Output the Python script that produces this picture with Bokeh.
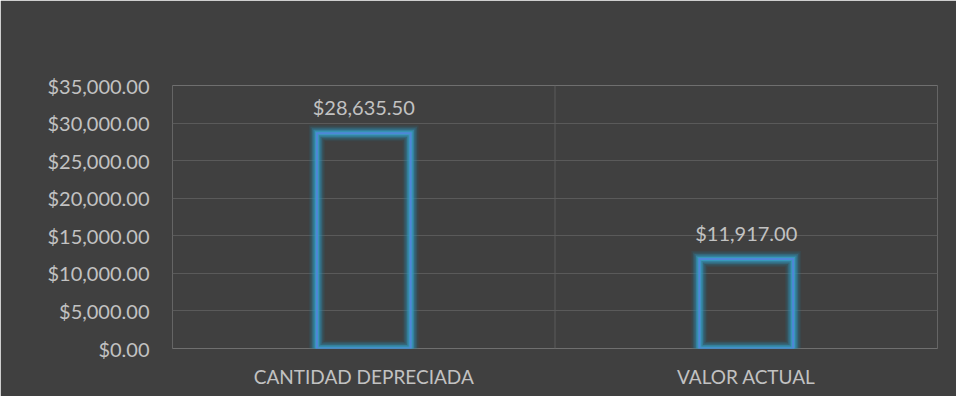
from bokeh.plotting import figure
from bokeh.models import ColumnDataSource, FactorRange, Range1d, NumeralTickFormatter, FixedTicker, Span
from bokeh.core.properties import value
from bokeh.embed import file_html
from bokeh.resources import INLINE

categories = ["CANTIDAD DEPRECIADA", "VALOR ACTUAL"]
values = [28635.50, 11917.00]
y_ticks = [0, 5000, 10000, 15000, 20000, 25000, 30000, 35000]

labels = ["${:,.2f}".format(v) for v in values]
source = ColumnDataSource(dict(cat=categories, val=values, half=[v / 2 for v in values], lab=labels))

FONT = "Lato"
BG = "#404040"
GRID = "#5a5a5a"
TXT = "#c2c2c2"

p = figure(width=956, height=396, x_range=FactorRange(*categories), y_range=Range1d(0, 35000),
           output_backend="svg", toolbar_location=None,
           background_fill_color=BG, border_fill_color=BG,
           min_border_left=172, min_border_right=19, min_border_top=85, min_border_bottom=48)
p.outline_line_color = None

# gridlines
p.ygrid.ticker = FixedTicker(ticks=y_ticks)
p.ygrid.grid_line_color = GRID
p.ygrid.grid_line_width = 1
p.xgrid.visible = False
for loc in [0, 1, 2]:
    p.add_layout(Span(location=loc, dimension="height", line_color=GRID, line_width=1))

# glow layers
bw = 0.245
for lw, col, a in [(16, "#23728f", 0.15), (13, "#2a85a8", 0.22), (10, "#2e8fb3", 0.32),
                   (7, "#3399bd", 0.5), (4, "#3aa2c6", 0.7)]:
    p.rect(x="cat", y="half", width=bw, height="val", source=source, fill_color=None,
           line_color=col, line_alpha=a, line_width=lw, line_join="miter")
p.rect(x="cat", y="half", width=bw, height="val", source=source, fill_color=None,
       line_color="#4f86d8", line_width=2, line_join="miter")

# data labels
p.text(x="cat", y="val", text="lab", source=source, text_align="center", text_baseline="bottom",
       y_offset=-14, text_font=value(FONT), text_font_size="20px", text_color=TXT)

# axes
p.yaxis.ticker = FixedTicker(ticks=y_ticks)
p.yaxis.formatter = NumeralTickFormatter(format="$0,0.00")
for ax in [p.xaxis[0], p.yaxis[0]]:
    ax.axis_line_color = None
    ax.major_tick_line_color = None
    ax.minor_tick_line_color = None
    ax.major_label_text_font = FONT
    ax.major_label_text_color = TXT
p.yaxis.major_label_text_font_size = "20px"
p.xaxis.major_label_text_font_size = "19px"
p.yaxis.major_label_standoff = 17
p.xaxis.major_label_standoff = 10

open("out.html", "w").write(file_html(p, INLINE))
